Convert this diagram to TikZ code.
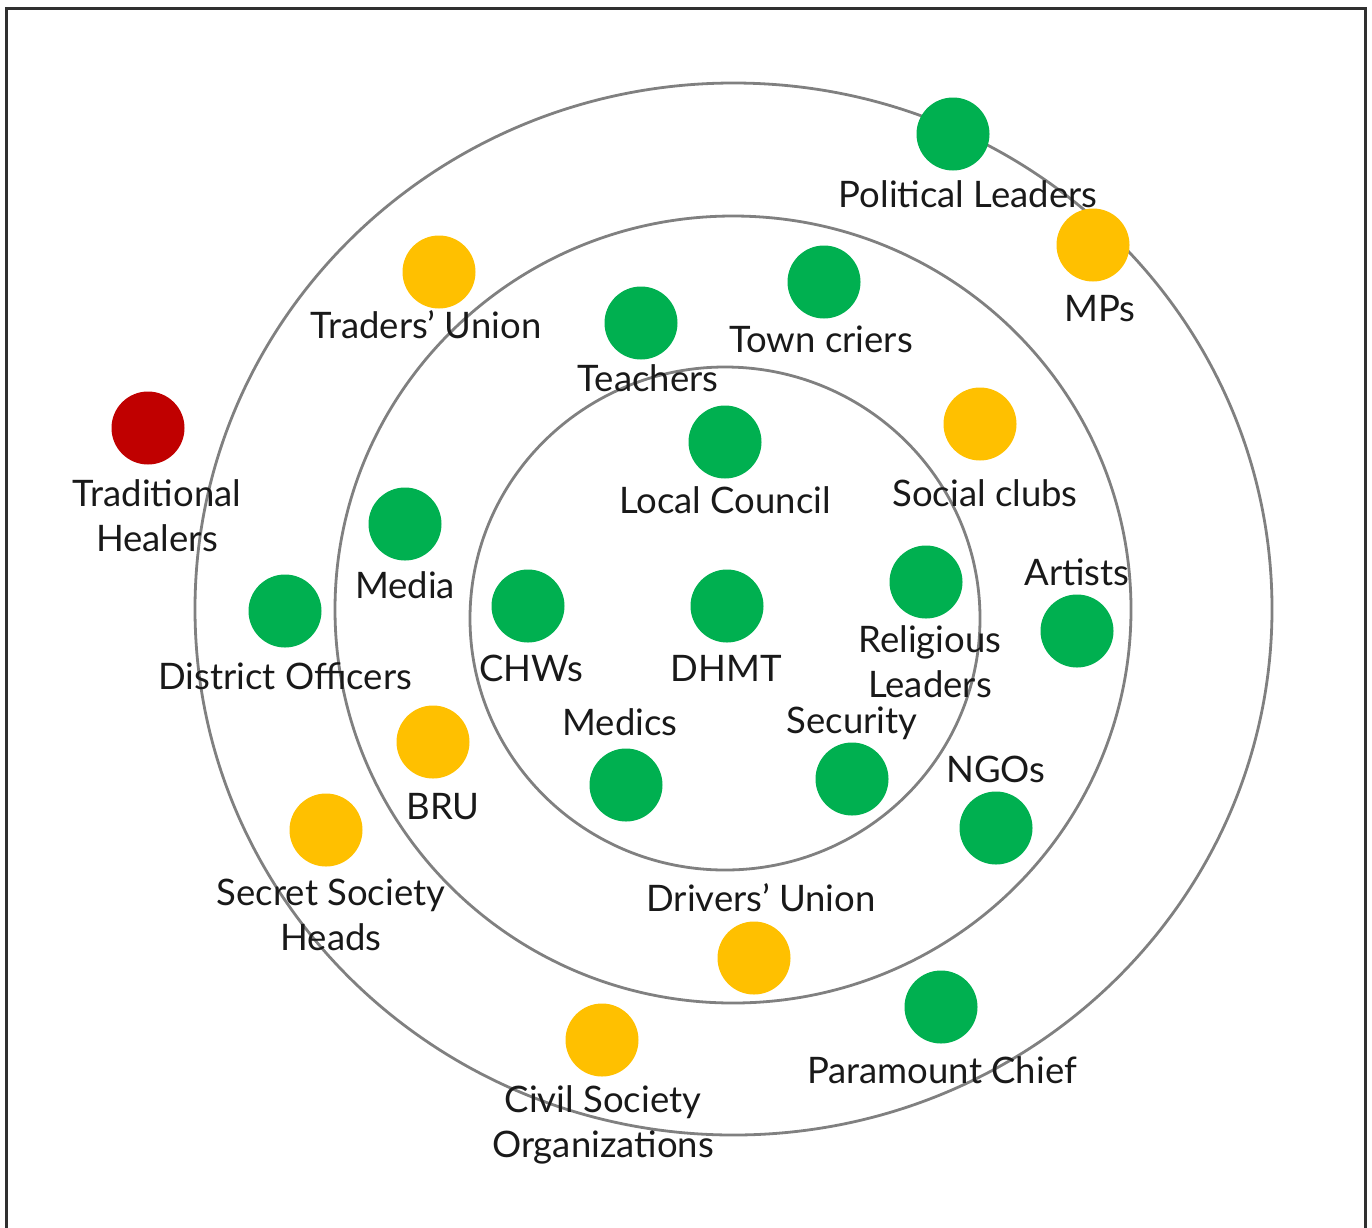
\documentclass[tikz,border=0pt]{standalone}
\usepackage{fontspec}
\setmainfont{Lato}
\definecolor{dotgreen}{HTML}{00B050}
\definecolor{dotyellow}{HTML}{FFC000}
\definecolor{dotred}{HTML}{C00000}
\definecolor{ringgray}{HTML}{808080}
\definecolor{framegray}{HTML}{303030}
\begin{document}
\begin{tikzpicture}[x=1pt,y=-1pt,
  ring/.style={draw=ringgray, line width=2.8pt},
  frame/.style={draw=framegray, line width=3pt},
  dot/.style={circle, minimum size=73pt, inner sep=0pt},
  gdot/.style={dot, fill=dotgreen},
  ydot/.style={dot, fill=dotyellow},
  rdot/.style={dot, fill=dotred},
  lbl/.style={anchor=base, inner sep=0pt, font=\fontsize{36.5}{45}\selectfont, align=center, text=black!90}]
\useasboundingbox (0,0) rectangle (1372,1227);
\draw[frame] (6,8) rectangle (1365,1250);
% rings
\draw[ring] (733.5,609) ellipse [x radius=538.5, y radius=526];
\draw[ring] (733,609.5) ellipse [x radius=398, y radius=393.5];
\draw[ring] (725,618.5) ellipse [x radius=255, y radius=251.5];
% dots
\node[gdot] (politicalDot) at (953,134) {};
\node[ydot] (mpsDot) at (1093,245) {};
\node[ydot] (tradersDot) at (439,272) {};
\node[gdot] (townDot) at (824,282) {};
\node[gdot] (teachersDot) at (641,323) {};
\node[rdot] (healersDot) at (148,428) {};
\node[gdot] (councilDot) at (725,442) {};
\node[ydot] (socialDot) at (980,424) {};
\node[gdot] (mediaDot) at (405,524) {};
\node[gdot] (artistsDot) at (1077,631) {};
\node[gdot] (districtDot) at (285,611) {};
\node[gdot] (chwsDot) at (528,606) {};
\node[gdot] (dhmtDot) at (727,606) {};
\node[gdot] (religiousDot) at (926,582) {};
\node[gdot] (medicsDot) at (626,785) {};
\node[gdot] (securityDot) at (852,779) {};
\node[ydot] (bruDot) at (433,742) {};
\node[gdot] (ngosDot) at (996,828) {};
\node[ydot] (secretDot) at (326,830) {};
\node[ydot] (driversDot) at (754,958) {};
\node[gdot] (chiefDot) at (941,1007) {};
\node[ydot] (civilDot) at (602,1040) {};
% labels
\node[lbl] (politicalLbl) at (968,207) {Political Leaders};
\node[lbl] (mpsLbl) at (1100,321) {MPs};
\node[lbl] (tradersLbl) at (426,338) {Traders’ Union};
\node[lbl] (townLbl) at (821,352) {Town criers};
\node[lbl] (teachersLbl) at (648,391) {Teachers};
\node[lbl] (healersLbl) at (157,551) {Traditional\\Healers};
\node[lbl] (councilLbl) at (725,513) {Local Council};
\node[lbl] (socialLbl) at (985,506) {Social clubs};
\node[lbl] (mediaLbl) at (405,598) {Media};
\node[lbl] (artistsLbl) at (1077,585) {Artists};
\node[lbl] (districtLbl) at (285,689) {District Officers};
\node[lbl] (chwsLbl) at (531,681) {CHWs};
\node[lbl] (dhmtLbl) at (726,681) {DHMT};
\node[lbl] (religiousLbl) at (930,697) {Religious\\Leaders};
\node[lbl] (medicsLbl) at (620,735) {Medics};
\node[lbl] (securityLbl) at (852,733) {Security};
\node[lbl] (bruLbl) at (443,819) {BRU};
\node[lbl] (ngosLbl) at (996,782) {NGOs};
\node[lbl] (secretLbl) at (331,950) {Secret Society\\Heads};
\node[lbl] (driversLbl) at (761,911) {Drivers’ Union};
\node[lbl] (chiefLbl) at (942,1083) {Paramount Chief};
\node[lbl] (civilLbl) at (603,1157) {Civil Society\\Organizations};
\end{tikzpicture}
\end{document}
